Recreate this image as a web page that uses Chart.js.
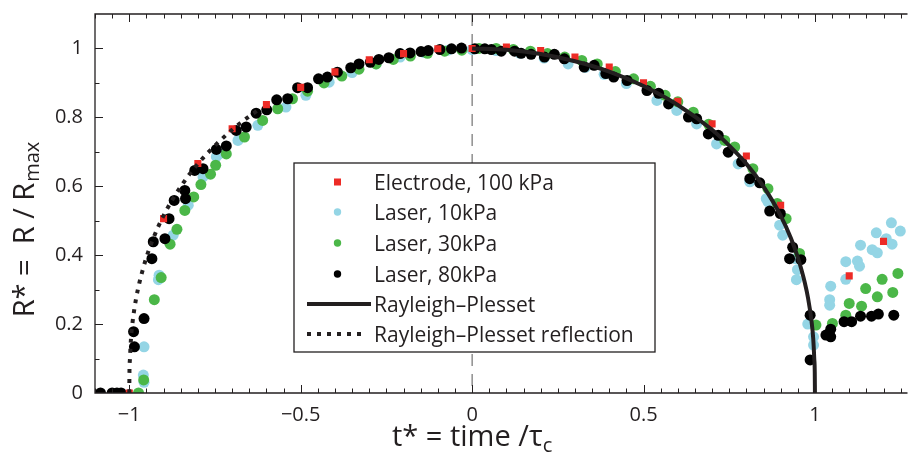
<!DOCTYPE html>
<html lang="en">
<head>
  <meta charset="UTF-8">
  <title>Bubble radius vs normalised time</title>
  <script src="https://cdn.jsdelivr.net/npm/chart.js"></script>
  <style>
    body {
      margin: 0;
      background: #fff;
    }
    canvas {
      display: block;
    }
  </style>
</head>
<body>

  <canvas id="radiusChart" width="913" height="456"></canvas>

  <script>
    // Electrode, 100 kPa (red squares)
    const electrodeX = [-1, -0.9, -0.8, -0.7, -0.6, -0.5, -0.4, -0.3, -0.2, -0.1, 0, 0.1, 0.2, 0.3, 0.4, 0.5, 0.6, 0.7, 0.8, 0.9, 1.1, 1.2];
    const electrodeY = [0, 0.506, 0.666, 0.767, 0.837, 0.887, 0.932, 0.967, 0.985, 0.999, 1.0, 1.004, 0.994, 0.975, 0.946, 0.90, 0.847, 0.781, 0.688, 0.545, 0.34, 0.44];

    // Laser, 10kPa (light blue)
    const laser10X = [-0.959, -0.957, -0.957, -0.915, -0.913, -0.872, -0.828, -0.785, -0.746, -0.736, -0.683, -0.625, -0.543, -0.485, -0.417, -0.35, -0.28, -0.21, -0.14, -0.07, 0, 0.07, 0.14, 0.21, 0.28, 0.33, 0.385, 0.45, 0.539, 0.597, 0.655, 0.713, 0.776, 0.81, 0.858, 0.863, 0.897, 0.906, 0.943, 0.949, 0.946, 0.979, 0.996, 0.996, 1.046, 1.043, 1.043, 1.09, 1.09, 1.124, 1.13, 1.133, 1.167, 1.182, 1.179, 1.208, 1.225, 1.223, 1.249];
    const laser10Y = [0.052, 0.031, 0.134, 0.329, 0.342, 0.458, 0.545, 0.627, 0.686, 0.695, 0.733, 0.777, 0.830, 0.864, 0.902, 0.93, 0.955, 0.975, 0.988, 0.995, 0.997, 0.994, 0.986, 0.972, 0.955, 0.945, 0.925, 0.898, 0.849, 0.820, 0.781, 0.723, 0.665, 0.613, 0.564, 0.555, 0.487, 0.458, 0.39, 0.358, 0.329, 0.2, 0.163, 0.139, 0.310, 0.271, 0.255, 0.381, 0.33, 0.383, 0.368, 0.429, 0.416, 0.407, 0.465, 0.448, 0.432, 0.494, 0.47];

    // Laser, 30kPa (green)
    const laser30X = [-0.973, -0.958, -0.927, -0.907, -0.881, -0.861, -0.838, -0.812, -0.791, -0.763, -0.748, -0.717, -0.664, -0.611, -0.567, -0.524, -0.48, -0.432, -0.38, -0.33, -0.28, -0.23, -0.18, -0.13, -0.08, -0.03, 0.02, 0.07, 0.12, 0.17, 0.22, 0.27, 0.32, 0.365, 0.418, 0.471, 0.52, 0.563, 0.6, 0.645, 0.69, 0.737, 0.766, 0.819, 0.863, 0.89, 0.916, 0.955, 1.003, 1.051, 1.09, 1.1, 1.136, 1.148, 1.182, 1.196, 1.227, 1.242];
    const laser30Y = [0, 0.038, 0.271, 0.335, 0.432, 0.475, 0.530, 0.569, 0.605, 0.635, 0.661, 0.694, 0.743, 0.791, 0.825, 0.854, 0.876, 0.900, 0.92, 0.94, 0.955, 0.968, 0.978, 0.986, 0.992, 0.995, 1.0, 1.0, 0.997, 0.992, 0.985, 0.975, 0.965, 0.955, 0.933, 0.912, 0.89, 0.864, 0.845, 0.815, 0.78, 0.733, 0.714, 0.651, 0.593, 0.55, 0.506, 0.405, 0.197, 0.202, 0.226, 0.26, 0.252, 0.303, 0.279, 0.33, 0.292, 0.347];

    // Laser, 80kPa (black)
    const laser80X = [-1.084, -1.05, -1.036, -1.024, -0.9875, -0.985, -0.957, -0.934, -0.93, -0.896, -0.884, -0.869, -0.838, -0.836, -0.809, -0.785, -0.746, -0.717, -0.688, -0.659, -0.630, -0.599, -0.570, -0.538, -0.509, -0.48, -0.448, -0.422, -0.393, -0.354, -0.330, -0.297, -0.272, -0.243, -0.210, -0.181, -0.149, -0.128, -0.094, -0.06, -0.031, 0.008, 0.037, 0.056, 0.085, 0.124, 0.143, 0.172, 0.211, 0.24, 0.269, 0.327, 0.356, 0.39, 0.413, 0.452, 0.51, 0.544, 0.573, 0.631, 0.655, 0.689, 0.718, 0.747, 0.786, 0.81, 0.839, 0.868, 0.899, 0.926, 0.935, 0.959, 0.986, 0.986, 1.032, 1.046, 1.046, 1.085, 1.107, 1.133, 1.165, 1.185, 1.23];
    const laser80Y = [0, 0, 0, 0, 0.178, 0.134, 0.216, 0.39, 0.439, 0.448, 0.506, 0.559, 0.588, 0.564, 0.646, 0.651, 0.707, 0.717, 0.762, 0.772, 0.812, 0.822, 0.851, 0.854, 0.886, 0.886, 0.912, 0.917, 0.931, 0.944, 0.955, 0.960, 0.968, 0.973, 0.985, 0.987, 0.991, 0.994, 0.997, 0.999, 1.001, 0.999, 0.999, 0.997, 0.992, 0.992, 0.986, 0.983, 0.975, 0.983, 0.970, 0.946, 0.951, 0.927, 0.917, 0.907, 0.878, 0.870, 0.839, 0.801, 0.796, 0.752, 0.748, 0.699, 0.671, 0.622, 0.61, 0.528, 0.521, 0.39, 0.423, 0.387, 0.226, 0.096, 0.168, 0.185, 0.163, 0.207, 0.207, 0.223, 0.223, 0.229, 0.226];

    // Rayleigh-Plesset (solid) and its reflection (dotted)
    const rpX = [0, 0.1, 0.2, 0.3, 0.4, 0.5, 0.6, 0.7, 0.75, 0.8, 0.85, 0.9, 0.93, 0.95, 0.96, 0.97, 0.98, 0.99, 0.995, 0.998, 0.9995, 1.0];
    const rpY = [1.0, 0.996, 0.984, 0.963, 0.933, 0.891, 0.836, 0.764, 0.718, 0.665, 0.599, 0.515, 0.449, 0.394, 0.36, 0.322, 0.275, 0.209, 0.158, 0.1, 0.06, 0];
    const reflX = [-1, -0.9995, -0.998, -0.995, -0.99, -0.98, -0.97, -0.96, -0.95, -0.93, -0.9, -0.85, -0.8, -0.75, -0.7, -0.65, -0.62];
    const reflY = [0, 0.06, 0.1, 0.158, 0.209, 0.275, 0.322, 0.36, 0.394, 0.449, 0.515, 0.599, 0.665, 0.718, 0.764, 0.803, 0.824];

    // axis ticks
    const xTicks = [-1, -0.5, 0, 0.5, 1];
    const yTicks = [0, 0.2, 0.4, 0.6, 0.8, 1];

    const INK = '#231f20';
    const FONT = '"Open Sans", "DejaVu Sans", sans-serif';

    function pts(xs, ys) {
      return xs.map((x, i) => ({ x: x, y: ys[i] }));
    }

    function fmt(v) {
      return v < 0 ? '\u2212' + Math.abs(v) : String(v);
    }

    const series = [
      { label: 'Electrode, 100 kPa', color: '#ed2b26', style: 'rect', x: electrodeX, y: electrodeY, order: 2 },
      { label: 'Laser, 10kPa', color: '#94d5e5', style: 'circle', x: laser10X, y: laser10Y, order: 5 },
      { label: 'Laser, 30kPa', color: '#4bb748', style: 'circle', x: laser30X, y: laser30Y, order: 4 },
      { label: 'Laser, 80kPa', color: '#000000', style: 'circle', x: laser80X, y: laser80Y, order: 3 }
    ];

    const datasets = series.map(s => ({
      label: s.label,
      data: pts(s.x, s.y),
      pointStyle: s.style,
      pointRadius: s.style === 'rect' ? 5 : 5.5,
      pointBackgroundColor: s.color,
      pointBorderWidth: 0,
      showLine: false,
      order: s.order
    }));

    datasets.push({
      label: 'Rayleigh\u2013Plesset',
      data: pts(rpX, rpY),
      showLine: true,
      borderColor: INK,
      borderWidth: 4,
      pointRadius: 0,
      cubicInterpolationMode: 'monotone',
      order: 0
    });
    datasets.push({
      label: 'Rayleigh\u2013Plesset reflection',
      data: pts(reflX, reflY),
      showLine: true,
      borderColor: INK,
      borderWidth: 4,
      borderDash: [4, 6],
      borderCapStyle: 'butt',
      pointRadius: 0,
      cubicInterpolationMode: 'monotone',
      order: 1
    });

    // dashed line at t* = 0, drawn under the markers
    const zeroLine = {
      id: 'zeroLine',
      beforeDatasetsDraw(chart) {
        const { ctx, chartArea, scales } = chart;
        const px = scales.x.getPixelForValue(0);
        ctx.save();
        ctx.strokeStyle = '#555';
        ctx.lineWidth = 1;
        ctx.setLineDash([12, 8]);
        ctx.beginPath();
        ctx.moveTo(px, chartArea.top);
        ctx.lineTo(px, chartArea.bottom);
        ctx.stroke();
        ctx.restore();
      }
    };

    // box, inward ticks, axis titles and legend
    const frame = {
      id: 'frame',
      afterDraw(chart) {
        const { ctx, chartArea: a, scales } = chart;
        const xs = scales.x, ys = scales.y;
        ctx.save();
        ctx.strokeStyle = INK;
        ctx.lineWidth = 1.3;
        ctx.beginPath();
        ctx.moveTo(a.right, a.top);
        ctx.lineTo(a.left, a.top);
        ctx.lineTo(a.left, a.bottom);
        ctx.lineTo(a.right, a.bottom);
        ctx.stroke();

        ctx.lineWidth = 1;
        ctx.beginPath();
        for (let k = -22; k <= 25; k++) {
          const v = k * 0.05;
          const px = Math.round(xs.getPixelForValue(v)) + 0.5;
          const len = k % 10 === 0 ? 8 : 4.5;
          ctx.moveTo(px, a.bottom); ctx.lineTo(px, a.bottom - len);
          ctx.moveTo(px, a.top); ctx.lineTo(px, a.top + len);
        }
        for (let k = 1; k <= 10; k++) {
          const py = Math.round(ys.getPixelForValue(k * 0.1)) + 0.5;
          const len = k % 2 === 0 ? 8 : 4.5;
          ctx.moveTo(a.left, py); ctx.lineTo(a.left + len, py);
        }
        ctx.stroke();

        // x title, centred on t* = 0
        ctx.fillStyle = INK;
        ctx.textBaseline = 'alphabetic';
        const big = '29px ' + FONT, small = '20px ' + FONT;
        ctx.font = big;
        const xMain = 't* = time /\u03c4';
        const wMain = ctx.measureText(xMain).width;
        ctx.font = small;
        const wSub = ctx.measureText('c').width;
        const x0 = xs.getPixelForValue(0) - (wMain + wSub) / 2;
        ctx.font = big;
        ctx.fillText(xMain, x0, 446);
        ctx.font = small;
        ctx.fillText('c', x0 + wMain, 452);

        // y title
        ctx.save();
        ctx.translate(34, 230);
        ctx.rotate(-Math.PI / 2);
        ctx.font = big;
        const yMain = 'R* =  R / R';
        const wy = ctx.measureText(yMain).width;
        ctx.font = small;
        const wy2 = ctx.measureText('max').width;
        const y0 = -(wy + wy2) / 2;
        ctx.font = big;
        ctx.fillText(yMain, y0, 0);
        ctx.font = small;
        ctx.fillText('max', y0 + wy + 1, 5);
        ctx.restore();

        // legend
        const lx = 294, ly = 163, lw = 361, lh = 189;
        ctx.fillStyle = '#fff';
        ctx.fillRect(lx, ly, lw, lh);
        ctx.strokeStyle = INK;
        ctx.lineWidth = 1.3;
        ctx.strokeRect(lx, ly, lw, lh);
        const rows = [182, 212, 243, 274, 304, 334];
        ctx.font = '21px ' + FONT;
        series.forEach((s, i) => {
          ctx.fillStyle = s.color;
          if (s.style === 'rect') {
            ctx.fillRect(334, rows[i] - 3.5, 7, 7);
          } else {
            ctx.beginPath();
            ctx.arc(337.5, rows[i], 3.7, 0, Math.PI * 2);
            ctx.fill();
          }
          ctx.fillStyle = INK;
          ctx.fillText(s.label, 374, rows[i] + 7.5);
        });
        ctx.strokeStyle = INK;
        ctx.lineWidth = 4;
        ctx.beginPath();
        ctx.moveTo(307, rows[4]); ctx.lineTo(371, rows[4]);
        ctx.stroke();
        ctx.setLineDash([4, 6]);
        ctx.beginPath();
        ctx.moveTo(307, rows[5]); ctx.lineTo(362, rows[5]);
        ctx.stroke();
        ctx.setLineDash([]);
        ctx.fillStyle = INK;
        ctx.fillText(datasets[4].label, 374, rows[4] + 7.5);
        ctx.fillText(datasets[5].label, 374, rows[5] + 7.5);
        ctx.restore();
      }
    };

    new Chart(document.getElementById('radiusChart'), {
      type: 'scatter',
      data: { datasets: datasets },
      options: {
        responsive: false,
        animation: false,
        devicePixelRatio: 1,
        layout: { padding: { top: 14, right: 0, bottom: 0, left: 0 } },
        plugins: {
          legend: { display: false },
          tooltip: { enabled: false }
        },
        scales: {
          x: {
            type: 'linear',
            min: -1.1,
            max: 1.27,
            grid: { display: false, drawTicks: false },
            border: { display: false },
            afterBuildTicks: s => { s.ticks = xTicks.map(v => ({ value: v })); },
            afterFit: s => { s.height = 63; s.paddingLeft = 0; s.paddingRight = 0; },
            ticks: {
              padding: 10,
              color: INK,
              font: { family: FONT, size: 20 },
              maxRotation: 0,
              callback: v => fmt(v)
            }
          },
          y: {
            type: 'linear',
            min: 0,
            max: 1.1,
            grid: { display: false, drawTicks: false },
            border: { display: false },
            afterBuildTicks: s => { s.ticks = yTicks.map(v => ({ value: v })); },
            afterFit: s => { s.width = 95; s.paddingTop = 0; s.paddingBottom = 0; },
            ticks: {
              padding: 12,
              color: INK,
              font: { family: FONT, size: 20 },
              callback: v => fmt(v)
            }
          }
        }
      },
      plugins: [zeroLine, frame]
    });
  </script>

</body>
</html>
